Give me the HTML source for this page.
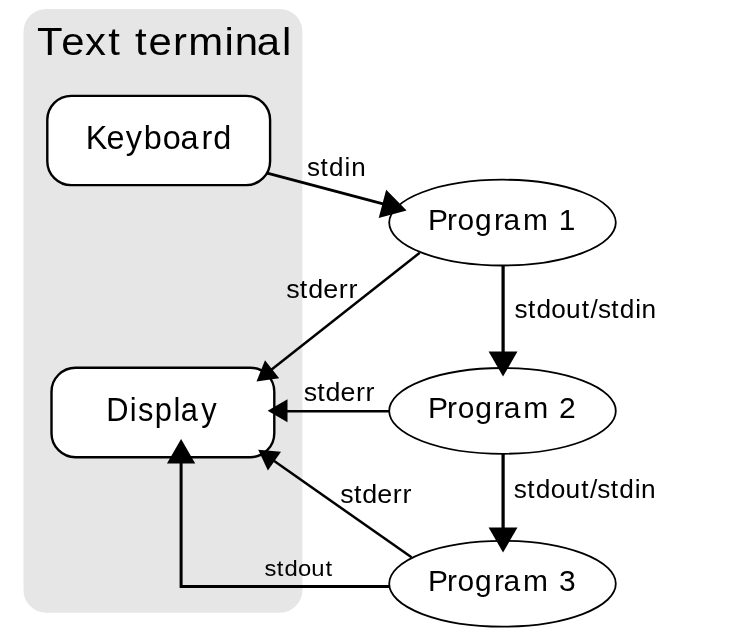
<!DOCTYPE html>
<html>
<head>
<meta charset="utf-8">
<title>Standard streams</title>
<style>
  html, body { margin: 0; padding: 0; background: #ffffff; }
  body { width: 730px; height: 640px; overflow: hidden; }
  svg { display: block; will-change: transform; }
  text { font-family: "Liberation Sans", sans-serif; fill: #000000; }
</style>
</head>
<body>
<svg width="730" height="640" viewBox="0 0 730 640">
  <rect x="0" y="0" width="730" height="640" fill="#ffffff"/>
  <!-- text terminal background -->
  <rect x="23.5" y="9" width="278.9" height="603.7" rx="22.5" ry="22.5" fill="#e6e6e6"/>
  <text transform="scale(1.0577,1)" x="34.92 57.94 80.44 102.37 113.38 127.71 140.34 163.63 177.90 212.27 221.97 242.75 266.64" y="55.30" font-size="39.63">Text terminal</text>

  <!-- boxes -->
  <rect x="47.3" y="95.85" width="222.8" height="89.3" rx="24" ry="24" fill="#ffffff" stroke="#000000" stroke-width="2.4"/>
  <text transform="scale(0.9779,1)" x="87.62 108.79 128.60 147.13 166.51 184.55 206.11 218.04" y="148.90" font-size="33.16">Keyboard</text>
  <rect x="51.5" y="367.7" width="222.8" height="89.5" rx="24" ry="24" fill="#ffffff" stroke="#000000" stroke-width="2.4"/>
  <text transform="scale(0.9366,1)" x="113.43 138.65 147.27 165.14 185.26 193.05 214.76" y="420.55" font-size="32.90">Display</text>

  <!-- programs -->
  <ellipse cx="502.5" cy="222.6" rx="113.3" ry="42.9" fill="#ffffff" stroke="#000000" stroke-width="1.8"/>
  <ellipse cx="502.5" cy="410.9" rx="113.3" ry="42.9" fill="#ffffff" stroke="#000000" stroke-width="1.8"/>
  <ellipse cx="502.5" cy="583.7" rx="113.3" ry="42.9" fill="#ffffff" stroke="#000000" stroke-width="1.8"/>
  <text transform="scale(1.0093,1)" x="424.19 442.81 453.33 470.66 489.35 498.82 518.13 542.80 553.53" y="230.25" font-size="29.61">Program 1</text>
  <text transform="scale(1.0101,1)" x="423.84 442.51 453.06 470.44 489.18 498.67 518.04 542.79 553.31" y="418.45" font-size="29.71">Program 2</text>
  <text transform="scale(1.0094,1)" x="424.12 442.77 453.31 470.67 489.39 498.87 518.22 542.93 553.86" y="591.25" font-size="29.66">Program 3</text>

  <!-- stdin: keyboard -> program 1 -->
  <line x1="267.2" y1="173.05" x2="384" y2="204.1" stroke="#000" stroke-width="2.9"/>
  <polygon points="378.69,218.09 386.19,189.87 406.60,210.40" fill="#000"/>

  <!-- stdout/stdin verticals -->
  <line x1="503.1" y1="265.4" x2="503.1" y2="353" stroke="#000" stroke-width="3.25"/>
  <polygon points="488.60,351.50 517.50,351.50 503.05,376.50" fill="#000"/>
  <line x1="503.1" y1="453.7" x2="503.1" y2="529" stroke="#000" stroke-width="3.25"/>
  <polygon points="488.60,527.40 517.50,527.40 503.05,552.40" fill="#000"/>

  <!-- stderr program 1 -> display -->
  <line x1="419.75" y1="252.75" x2="271" y2="370.1" stroke="#000" stroke-width="2.5"/>
  <polygon points="264.99,360.27 279.18,378.24 256.50,381.55" fill="#000"/>

  <!-- stderr program 2 -> display -->
  <line x1="389.4" y1="411.25" x2="286" y2="411.25" stroke="#000" stroke-width="2.6"/>
  <polygon points="287.50,399.25 287.50,422.15 267.65,410.70" fill="#000"/>

  <!-- stderr program 3 -> display -->
  <line x1="411.5" y1="557.3" x2="273.5" y2="460.55" stroke="#000" stroke-width="2.5"/>
  <polygon points="281.03,451.82 267.88,470.57 258.20,449.80" fill="#000"/>

  <!-- stdout program 3 -> display -->
  <polyline points="389.4,586.4 181.1,586.4 181.1,462" fill="none" stroke="#000" stroke-width="3" stroke-linejoin="miter"/>
  <polygon points="195.25,463.40 166.95,463.40 181.10,438.90" fill="#000"/>

  <!-- labels -->
  <text transform="scale(1.0055,1)" x="305.21 318.73 327.30 342.64 349.22" y="175.65" font-size="25.88">stdin</text>
  <text transform="scale(1.0510,1)" x="272.37 285.28 293.24 307.50 322.26 331.53" y="297.90" font-size="25.59">stderr</text>
  <text transform="scale(1.0510,1)" x="288.95 301.80 309.74 323.94 338.64 347.88" y="401.45" font-size="25.49">stderr</text>
  <text transform="scale(1.0510,1)" x="323.85 336.73 344.68 358.91 373.65 382.90" y="502.90" font-size="25.55">stderr</text>
  <text transform="scale(1.0486,1)" x="252.33 263.99 271.28 284.15 296.85 310.49" y="575.60" font-size="22.74">stdout</text>
  <text transform="scale(1.0261,1)" x="501.43 514.56 522.79 537.30 551.61 566.99 575.46 582.69 595.82 604.05 618.98 625.27" y="317.80" font-size="25.56">stdout/stdin</text>
  <text transform="scale(1.0261,1)" x="500.74 513.91 522.15 536.68 551.02 566.42 574.91 582.15 595.31 603.55 618.51 624.81" y="498.20" font-size="25.61">stdout/stdin</text>
</svg>
</body>
</html>
